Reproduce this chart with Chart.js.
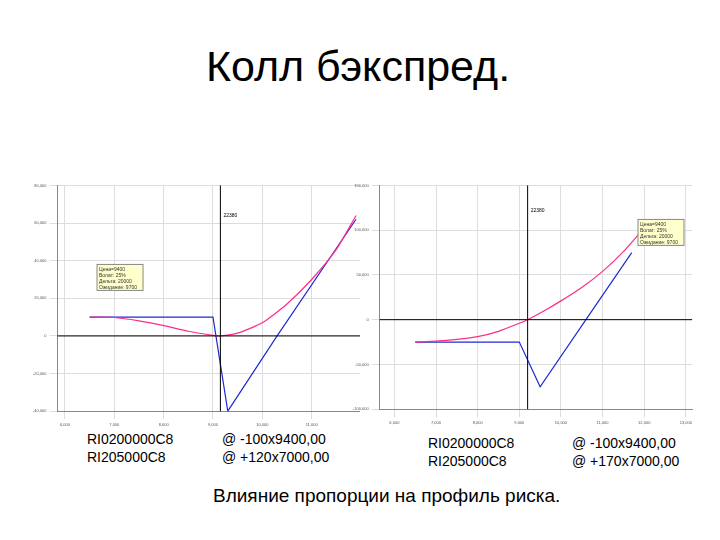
<!DOCTYPE html><html><head><meta charset="utf-8">
<script src="https://cdn.jsdelivr.net/npm/chart.js@4/dist/chart.umd.min.js"></script>
<style>
body{margin:0;width:720px;height:540px;background:#fff;font-family:"Liberation Sans",Arial,sans-serif;position:relative;overflow:hidden}
.t{position:absolute;color:#000}
#c1{position:absolute;left:30px;top:180px}
#c2{position:absolute;left:350px;top:180px}
</style></head><body>
<div class="t" style="left:0;width:716px;top:42px;text-align:center;font-size:43px">Колл бэкспред.</div>
<div class="t" style="left:87px;top:430px;font-size:14px;line-height:18px">RI0200000C8<br>RI205000C8</div>
<div class="t" style="left:222px;top:430px;font-size:14px;line-height:18px">@ -100x9400,00<br>@ +120x7000,00</div>
<div class="t" style="left:428px;top:434px;font-size:14px;line-height:18px">RI0200000C8<br>RI205000C8</div>
<div class="t" style="left:572px;top:434px;font-size:14px;line-height:18px">@ -100x9400,00<br>@ +170x7000,00</div>
<div class="t" style="left:213px;top:485px;font-size:19px">Влияние пропорции на профиль риска.</div>
<canvas id="c1" width="330" height="250"></canvas>
<canvas id="c2" width="345" height="248"></canvas>
<script>
const expiry1X=[6500,9000,9300,10300,11900];
const expiry1Y=[10000,10000,-40000,0,62000];
const today1X=[6500,7000,7500,8000,8500,9000,9150,9500,10000,10500,11000,11500,11900];
const today1Y=[10000,9800,8000,5500,2500,300,0,1500,7000,17000,30000,46000,64000];
const expiry2X=[6500,9000,9500,10600,11700];
const expiry2Y=[-25000,-25000,-75000,0,75000];
const today2X=[6500,7000,7500,8000,8500,9000,9200,9600,10000,10500,11000,11500,12100];
const today2Y=[-25000,-24000,-22000,-19000,-13000,-4000,0,10000,21000,36000,54000,76000,108000];
const X1TICKS=[6000,7000,8000,9000,10000,11000];
const X2TICKS=[6000,7000,8000,9000,10000,11000,12000,13000];
const Y1TICKS=[-40000,-20000,0,20000,40000,60000,80000];
const Y2TICKS=[-100000,-50000,0,50000,100000,150000];
function pts(x,y){return x.map((v,i)=>({x:v,y:y[i]}));}
function mk(id,ex,ey,tx,ty,xmin,xmax,ymin,ymax,xt,yt,vline,vlabel,box){
 const deco={id:'deco',afterDraw(ch){const c=ch.ctx,xs=ch.scales.x,ys=ch.scales.y,a=ch.chartArea;
  c.save();c.strokeStyle='#000';c.lineWidth=1;
  const y0=ys.getPixelForValue(0);c.beginPath();c.moveTo(a.left,y0);c.lineTo(a.right,y0);c.stroke();
  const xv=xs.getPixelForValue(vline);c.beginPath();c.moveTo(xv,a.top);c.lineTo(xv,a.bottom);c.stroke();
  c.font='5px sans-serif';c.fillStyle='#000';c.fillText(vlabel,xv+3,ys.getPixelForValue(box.ly));
  const bx=xs.getPixelForValue(box.x),by=ys.getPixelForValue(box.y);
  c.fillStyle='#ffffcc';c.fillRect(bx,by,box.w,26);c.strokeStyle='#888';c.strokeRect(bx,by,box.w,26);
  c.fillStyle='#333';box.t.forEach((s,i)=>c.fillText(s,bx+2,by+7+i*6));
  c.restore();}};
 new Chart(document.getElementById(id),{type:'scatter',
 data:{datasets:[
  {data:pts(tx,ty),showLine:true,borderColor:'#ff2d8a',borderWidth:1.2,pointRadius:0,tension:0.2},
  {data:pts(ex,ey),showLine:true,borderColor:'#1f2ad6',borderWidth:1.2,pointRadius:0,tension:0}]},
 options:{responsive:false,animation:false,plugins:{legend:{display:false},tooltip:{enabled:false}},
  layout:{padding:{right:0}},
  scales:{x:{type:'linear',min:xmin,max:xmax,afterBuildTicks(s){s.ticks=xt.map(v=>({value:v}));},ticks:{font:{size:4},color:'#555'},grid:{color:'#ddd'},border:{color:'#888'}},
   y:{min:ymin,max:ymax,afterBuildTicks(s){s.ticks=yt.map(v=>({value:v}));},ticks:{font:{size:4},color:'#555'},grid:{color:'#ddd'},border:{color:'#888'}}}}
 ,plugins:[deco]});
}
mk('c1',expiry1X,expiry1Y,today1X,today1Y,5850,11980,-40000,80000,X1TICKS,Y1TICKS,9150,'22380',
 {x:6650,y:38000,ly:63000,w:46,t:['Цена=9400','Волат: 25%','Дельта: 20000','Ожидание: 9700']});
mk('c2',expiry2X,expiry2Y,today2X,today2Y,5650,13150,-100000,150000,X2TICKS,Y2TICKS,9200,'22380',
 {x:11850,y:112000,ly:120000,w:46,t:['Цена=9400','Волат: 25%','Дельта: 20000','Ожидание: 9700']});
</script></body></html>
